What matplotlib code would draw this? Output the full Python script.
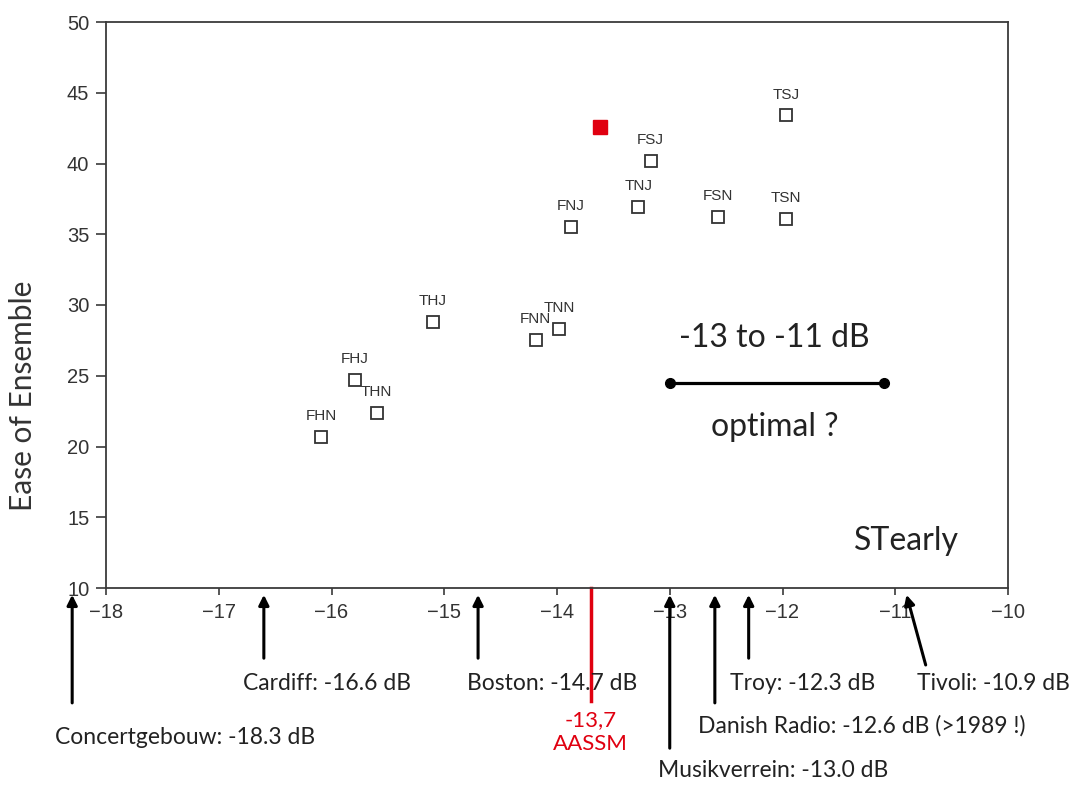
import matplotlib
matplotlib.use("Agg")
import matplotlib.pyplot as plt

# seating configurations: strength of early support vs ease of ensemble
codes = ["FHN", "FHJ", "THN", "THJ", "FNN", "TNN", "FNJ", "TNJ", "FSJ", "FSN", "TSN", "TSJ"]
st_early = [-16.09, -15.79, -15.60, -15.10, -14.19, -13.98, -13.88, -13.28, -13.17, -12.57, -11.97, -11.97]
ease = [20.7, 24.7, 22.4, 28.8, 27.5, 28.3, 35.5, 36.9, 40.2, 36.2, 36.1, 43.4]

# highlighted result
red_x, red_y = -13.62, 42.6

# measured halls (STearly in dB)
halls = ["Concertgebouw", "Cardiff", "Boston", "Musikverrein", "Danish Radio", "Troy", "Tivoli"]
hall_db = [-18.3, -16.6, -14.7, -13.0, -12.6, -12.3, -10.9]
hall_text = ["Concertgebouw: -18.3 dB", "Cardiff: -16.6 dB", "Boston: -14.7 dB",
             "Musikverrein: -13.0 dB", "Danish Radio: -12.6 dB (>1989 !)",
             "Troy: -12.3 dB", "Tivoli: -10.9 dB"]

aassm_db = -13.7
optimal_range = [-13.0, -11.1]
optimal_y = 24.5

fig = plt.figure(figsize=(10.85, 7.85), dpi=100)
ax = fig.add_axes([106 / 1085, 1 - 588 / 785, 902 / 1085, 566 / 785])

ax.set_xlim(-18, -10)
ax.set_ylim(10, 50)
ax.set_xticks(range(-18, -9))
ax.set_yticks(range(10, 51, 5))
for s in ax.spines.values():
    s.set_color("#3a3a3a")
    s.set_linewidth(1.3)
ax.tick_params(axis="x", length=5, width=1.2, pad=6, colors="#3a3a3a",
               labelsize=14.5, labelcolor="#333333")
ax.tick_params(axis="y", length=7, width=1.2, pad=5, colors="#3a3a3a",
               labelsize=14.5, labelcolor="#333333")
for lab in ax.get_xticklabels() + ax.get_yticklabels():
    lab.set_family("Liberation Sans")

ax.set_ylabel("Ease of Ensemble", family="Lato", fontsize=21.5, color="#333333")
ax.yaxis.set_label_coords(-0.077, 0.34)

# configurations
ax.plot(st_early, ease, ls="none", marker="s", ms=8, mfc="none", mec="#333333", mew=1.3)
for c, x, y in zip(codes, st_early, ease):
    ax.annotate(c, (x, y), xytext=(0, 10), textcoords="offset points", ha="center",
                va="bottom", fontsize=11, family="Liberation Sans", color="#333333")

ax.plot([red_x], [red_y], ls="none", marker="s", ms=10, color="#e00010")

# optimal range bar
ax.plot(optimal_range, [optimal_y, optimal_y], color="black", lw=2.3, marker="o", ms=7)
big = dict(ha="center", va="center", fontsize=23, family="Lato", color="#222222")
ax.text(-12.07, 27.7, "-13 to -11 dB", **big)
ax.text(-12.07, 21.4, "optimal ?", **big)
ax.text(-10.9, 13.3, "STearly", **big)

# hall arrows below the axis
trans = ax.get_xaxis_transform()
tail_y = [-0.203, -0.124, -0.124, -0.283, -0.203, -0.124, -0.136]
tail_dx = [0, 0, 0, 0, 0, 0, 0.17]
text_dx = [-17, -21, -11, -12, -17, -19, 10]
text_y = [-0.265, -0.168, -0.168, -0.322, -0.244, -0.168, -0.168]
for db, ty, tdx in zip(hall_db, tail_y, tail_dx):
    ax.annotate("", xy=(db, -0.012), xycoords=trans, xytext=(db + tdx, ty),
                textcoords=trans, annotation_clip=False,
                arrowprops=dict(arrowstyle="-|>", color="black", lw=2.2,
                                mutation_scale=15, shrinkA=0, shrinkB=0))
for db, txt, dx, ty in zip(hall_db, hall_text, text_dx, text_y):
    ax.annotate(txt, xy=(db, ty), xycoords=trans, xytext=(dx, 0),
                textcoords="offset pixels", ha="left", va="center",
                fontsize=16.5, family="Lato", color="#222222", annotation_clip=False)

# AASSM marker line
ax.plot([aassm_db, aassm_db], [0, -0.2], transform=trans, color="#e00010",
        lw=2.5, clip_on=False)
ax.text(aassm_db, -0.234, "-13,7", transform=trans, ha="center", va="center",
        fontsize=16, family="Lato", color="#e00010")
ax.text(aassm_db, -0.275, "AASSM", transform=trans, ha="center", va="center",
        fontsize=16, family="Lato", color="#e00010")

fig.savefig("out.png", dpi=100)
